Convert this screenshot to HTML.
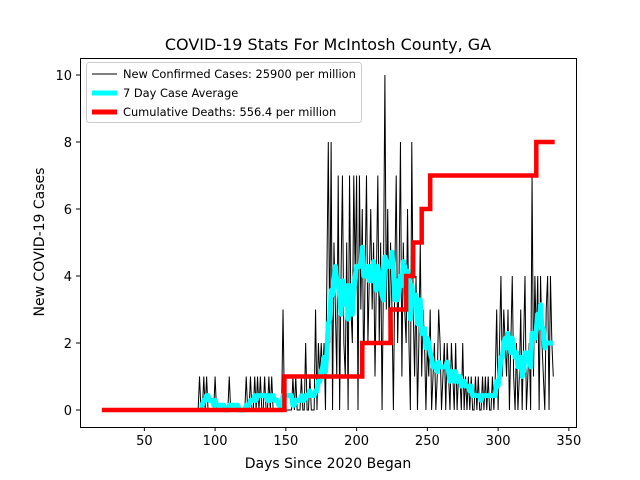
<!DOCTYPE html>
<html><head><meta charset="utf-8"><style>
body{margin:0;background:#fff}
svg{display:block;font-family:"DejaVu Sans","Liberation Sans",sans-serif}
</style></head><body>
<svg id="chart" width="640" height="480">
<rect width="640" height="480" fill="#fff"/>
<text x="328" y="50" font-size="16" text-anchor="middle">COVID-19 Stats For McIntosh County, GA</text>
<g id="plot"></g>
<text x="328" y="468" font-size="14" text-anchor="middle">Days Since 2020 Began</text>
<text x="0" y="0" font-size="14" text-anchor="middle" transform="translate(44,242) rotate(-90)">New COVID-19 Cases</text>
<g>
<rect x="86.5" y="62.5" width="275" height="60" rx="3" fill="#fff" fill-opacity="0.8" stroke="#ccc"/>
<line x1="92" y1="74" x2="117" y2="74" stroke="#000" stroke-width="1"/>
<text x="123" y="78" font-size="11.4">New Confirmed Cases: 25900 per million</text>
<line x1="92" y1="93" x2="117" y2="93" stroke="#00ffff" stroke-width="5"/>
<text x="123" y="97" font-size="11.4">7 Day Case Average</text>
<line x1="92" y1="112" x2="117" y2="112" stroke="#ff0000" stroke-width="5"/>
<text x="123" y="116" font-size="11.4">Cumulative Deaths: 556.4 per million</text>
</g>
</svg>
<script>
const startDay = 20;
const cases = [
0,0,0,0,0,0,0,0,0,0, 0,0,0,0,0,0,0,0,0,0, 0,0,0,0,0,0,0,0,0,0, 0,0,0,0,0,0,0,0,0,0,
0,0,0,0,0,0,0,0,0,0, 0,0,0,0,0,0,0,0,0,0, 0,0,0,0,0,0,0,0,0,
1,0,0,1,0,1,0,0,0,0,0, 1,0,0,0,0,0,0,0,0,0, 1,0,0,0,0,0,0,0,0,0,0,0,
1,0,0,1,0,0,1,0,1,0,1,0,0,1,0,0,1,0,1,0,0,0,0,0,0,0,3,0,0,
0,0,0,0,1,0,1,0,0,0,1,0,0,2,0,0,1,0,0,0,3,0,2,1,2,1,2,0,
4,8,2,8,0,5,3,1,7,0,4,7,2,1,5,0,7,3,2,7,4,7,0,7,3,6,1,4,7,2,
4,6,3,5,1,4,7,2,5,0,4,10,3,6,2,5,3,0,4,7,2,4,8,1,5,3,2,6,2,0,
8,3,1,4,0,2,5,1,3,2,0,
2,1,3,0,1,2,0,1,3,2,0,1,2,0,2,1,0,2,1,0,2,0,1,1,0,2,0,1,0,1,
0,1,0,0,1,0,1,0,0,1,0,1,0,1,0,0,1,0,1,3,
0,2,4,1,3,2,1,3,0,2,4,1,0,2,0,1,3,0,2,4,0,1,2,0,7,1,4,2,4,0,
4,2,1,0,3,4,0,4,2,1
];
const deathSteps = [[20,0],[149,1],[204,2],[224,3],[235,4],[240,5],[246,6],[252,7],[327,8],[340,8]];
const xTicks = [50,100,150,200,250,300,350];
const yTicks = [0,2,4,6,8,10];
const avgStartDay = 89;

const NS = "http://www.w3.org/2000/svg";
const L=80,R=576,T=58,B=427;
const xs = d => 73.6 + d*1.415;
const ys = v => 410 - v*33.5;
const plot = document.getElementById('plot');
function mk(tag, attrs){const e=document.createElementNS(NS,tag);for(const k in attrs)e.setAttribute(k,attrs[k]);plot.appendChild(e);return e;}

const frame = mk('rect',{x:L+0.5,y:T+0.5,width:R-L,height:B-T,fill:'none',stroke:'#000','stroke-width':1});



xTicks.forEach(t=>{
  const x = xs(t);
  const tk = mk('line',{x1:x,y1:B,x2:x,y2:B+4,stroke:'#000'});
  
  
  const lb = mk('text',{x:x,y:B+18,'font-size':13,'text-anchor':'middle'});
  lb.textContent = t;
  
  
});
yTicks.forEach(t=>{
  const y = ys(t);
  const tk = mk('line',{x1:L-4,y1:y,x2:L,y2:y,stroke:'#000'});
  
  
  const lb = mk('text',{x:L-8,y:y+5,'font-size':13,'text-anchor':'end'});
  lb.textContent = t;
  
  
});

let p = cases.map((v,i)=>(i?'L':'M')+xs(startDay+i).toFixed(2)+','+ys(v).toFixed(2)).join('');
const cl = mk('path',{d:p,fill:'none',stroke:'#000','stroke-width':1,'stroke-linejoin':'miter'});



let ap = [];
for(let i=0;i<cases.length;i++){
  const d = startDay+i;
  if(d<avgStartDay) continue;
  let s=0,n=0;
  for(let j=Math.max(0,i-6);j<=i;j++){s+=cases[j];n++;}
  ap.push((ap.length?'L':'M')+xs(d).toFixed(2)+','+ys(s/n).toFixed(2));
}
const al = mk('path',{d:ap.join(''),fill:'none',stroke:'#00ffff','stroke-width':5,'stroke-linejoin':'round'});



let dp = '';
deathSteps.forEach((s,i)=>{
  if(i===0) dp += 'M'+xs(s[0])+','+ys(s[1]);
  else { dp += 'L'+xs(s[0])+','+ys(deathSteps[i-1][1]); dp += 'L'+xs(s[0])+','+ys(s[1]); }
});
const dl = mk('path',{d:dp,fill:'none',stroke:'#ff0000','stroke-width':4.5});


</script>
</body></html>
